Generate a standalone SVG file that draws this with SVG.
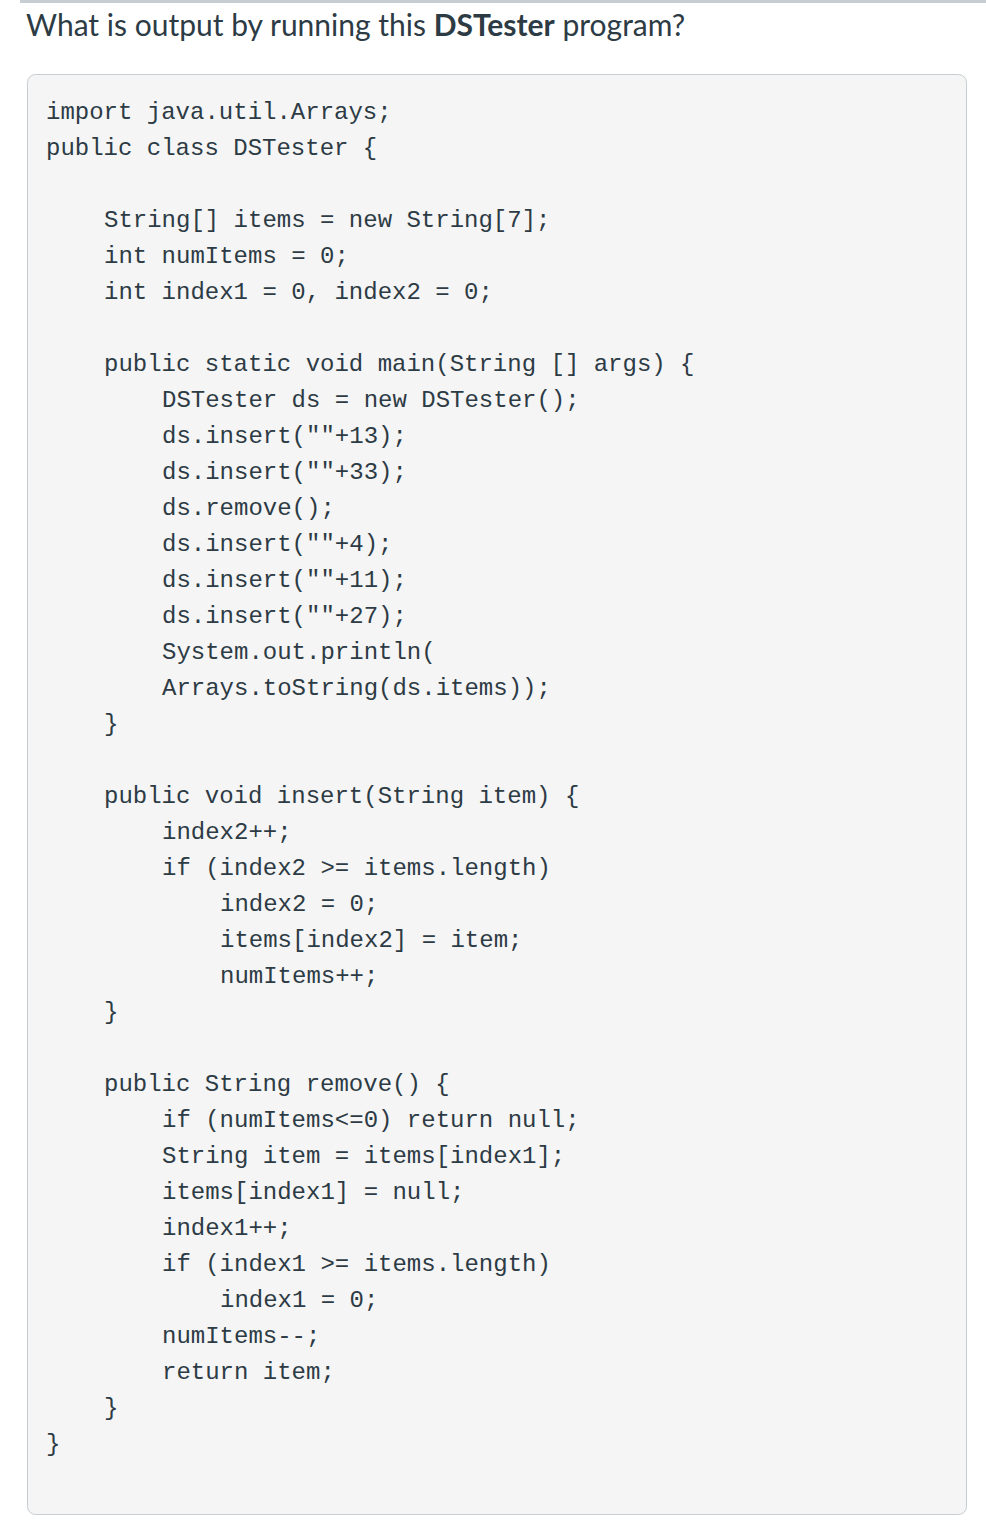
<svg xmlns="http://www.w3.org/2000/svg" width="986" height="1526" viewBox="0 0 986 1526">
<style>
.c{font-family:"Liberation Mono","DejaVu Sans Mono",monospace;font-size:24px;fill:#2d3b45}
.t{font-family:Lato,"Liberation Sans",sans-serif;font-size:30px;fill:#2d3b45}
</style>
<rect width="986" height="1526" fill="#fff"/>
<rect x="20" y="0" width="966" height="3" fill="#c7cdd1"/>
<text class="t" x="26" y="36">What is output by running this <tspan font-weight="bold">DSTester</tspan> program?</text>
<rect x="27.5" y="74.5" width="939" height="1440" rx="8" fill="#f5f5f5" stroke="#c7cdd1"/>
<g class="c">
<text x="46" y="119">import java.util.Arrays;</text>
<text x="46" y="155">public class DSTester {</text>
<text x="104" y="227">String[] items = new String[7];</text>
<text x="104" y="263">int numItems = 0;</text>
<text x="104" y="299">int index1 = 0, index2 = 0;</text>
<text x="104" y="371">public static void main(String [] args) {</text>
<text x="162" y="407">DSTester ds = new DSTester();</text>
<text x="162" y="443">ds.insert(""+13);</text>
<text x="162" y="479">ds.insert(""+33);</text>
<text x="162" y="515">ds.remove();</text>
<text x="162" y="551">ds.insert(""+4);</text>
<text x="162" y="587">ds.insert(""+11);</text>
<text x="162" y="623">ds.insert(""+27);</text>
<text x="162" y="659">System.out.println(</text>
<text x="162" y="695">Arrays.toString(ds.items));</text>
<text x="104" y="731">}</text>
<text x="104" y="803">public void insert(String item) {</text>
<text x="162" y="839">index2++;</text>
<text x="162" y="875">if (index2 &gt;= items.length)</text>
<text x="220" y="911">index2 = 0;</text>
<text x="220" y="947">items[index2] = item;</text>
<text x="220" y="983">numItems++;</text>
<text x="104" y="1019">}</text>
<text x="104" y="1091">public String remove() {</text>
<text x="162" y="1127">if (numItems&lt;=0) return null;</text>
<text x="162" y="1163">String item = items[index1];</text>
<text x="162" y="1199">items[index1] = null;</text>
<text x="162" y="1235">index1++;</text>
<text x="162" y="1271">if (index1 &gt;= items.length)</text>
<text x="220" y="1307">index1 = 0;</text>
<text x="162" y="1343">numItems--;</text>
<text x="162" y="1379">return item;</text>
<text x="104" y="1415">}</text>
<text x="46" y="1451">}</text>
</g>
</svg>
